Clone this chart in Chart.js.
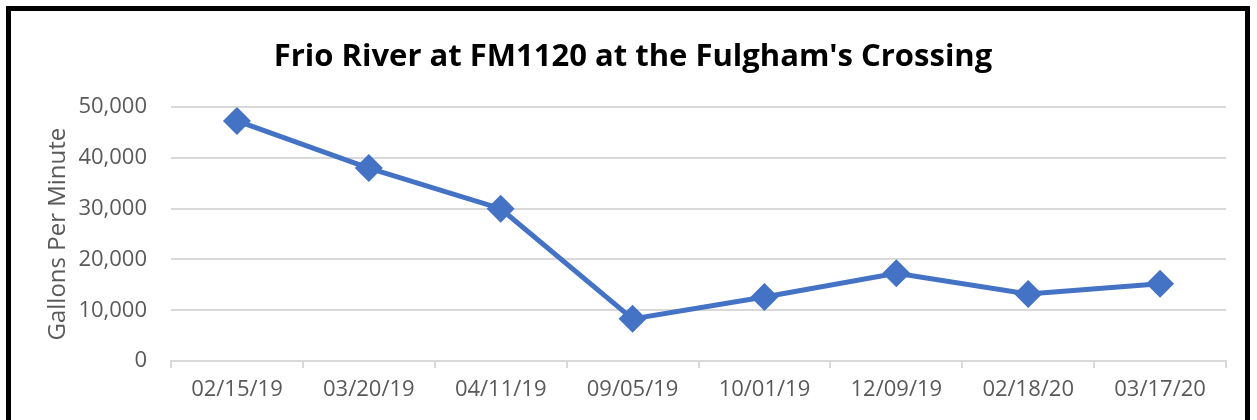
<!DOCTYPE html>
<html>
<head>
<meta charset="utf-8">
<script src="https://cdn.jsdelivr.net/npm/chart.js@4"></script>
<style>
  html, body { margin: 0; padding: 0; background: #fff; overflow: hidden; }
  #frame { position: absolute; left: 6px; top: 6px; width: 1234px; height: 420px; border: 5px solid #000; }
  #wrap { position: relative; width: 1234px; height: 409px; }
</style>
</head>
<body>
<div id="frame"><div id="wrap"><canvas id="chart"></canvas></div></div>
<script>
// data
const dates = ["02/15/19", "03/20/19", "04/11/19", "09/05/19", "10/01/19", "12/09/19", "02/18/20", "03/17/20"];
const gpm = [47300, 38000, 30000, 8300, 12600, 17300, 13200, 15200];
const yTicks = [0, 10000, 20000, 30000, 40000, 50000];

const blue = "#4472C4";
const grey = "#595959";
const gridGrey = "#d9d9d9";
const font = "'Open Sans', sans-serif";

new Chart(document.getElementById("chart"), {
  type: "line",
  data: {
    labels: dates,
    datasets: [{
      label: "Gallons Per Minute",
      data: gpm,
      borderColor: blue,
      backgroundColor: blue,
      borderWidth: 5,
      pointStyle: "rectRot",
      pointRadius: 14,
      pointBorderWidth: 0,
      pointBackgroundColor: blue,
      tension: 0
    }]
  },
  options: {
    responsive: true,
    maintainAspectRatio: false,
    animation: false,
    layout: { padding: { left: 29, right: 19, top: 0, bottom: 0 } },
    plugins: {
      legend: { display: false },
      tooltip: { enabled: false },
      title: {
        display: true,
        text: "Frio River at FM1120 at the Fulgham's Crossing",
        color: "#000",
        font: { family: font, size: 31, weight: "bold" },
        padding: { top: 28, bottom: 31 }
      }
    },
    scales: {
      x: {
        offset: true,
        afterFit: s => { s.height = 59; },
        grid: { offset: true, drawOnChartArea: false, color: gridGrey, tickLength: 7, lineWidth: 2 },
        border: { color: gridGrey, width: 2 },
        ticks: { color: grey, font: { family: font, size: 22 }, padding: 9, maxRotation: 0 }
      },
      y: {
        min: 0,
        max: 50000,
        afterBuildTicks: s => { s.ticks = yTicks.map(v => ({ value: v })); },
        afterFit: s => { s.width = 131; },
        grid: { color: gridGrey, lineWidth: 2, drawTicks: false },
        border: { display: false },
        ticks: {
          color: grey,
          font: { family: font, size: 22 },
          padding: 24,
          callback: v => v.toLocaleString("en-US")
        },
        title: {
          display: true,
          text: "Gallons Per Minute",
          color: grey,
          font: { family: font, size: 24 },
          padding: { top: 4, bottom: 0 }
        }
      }
    }
  }
});
</script>
</body>
</html>
